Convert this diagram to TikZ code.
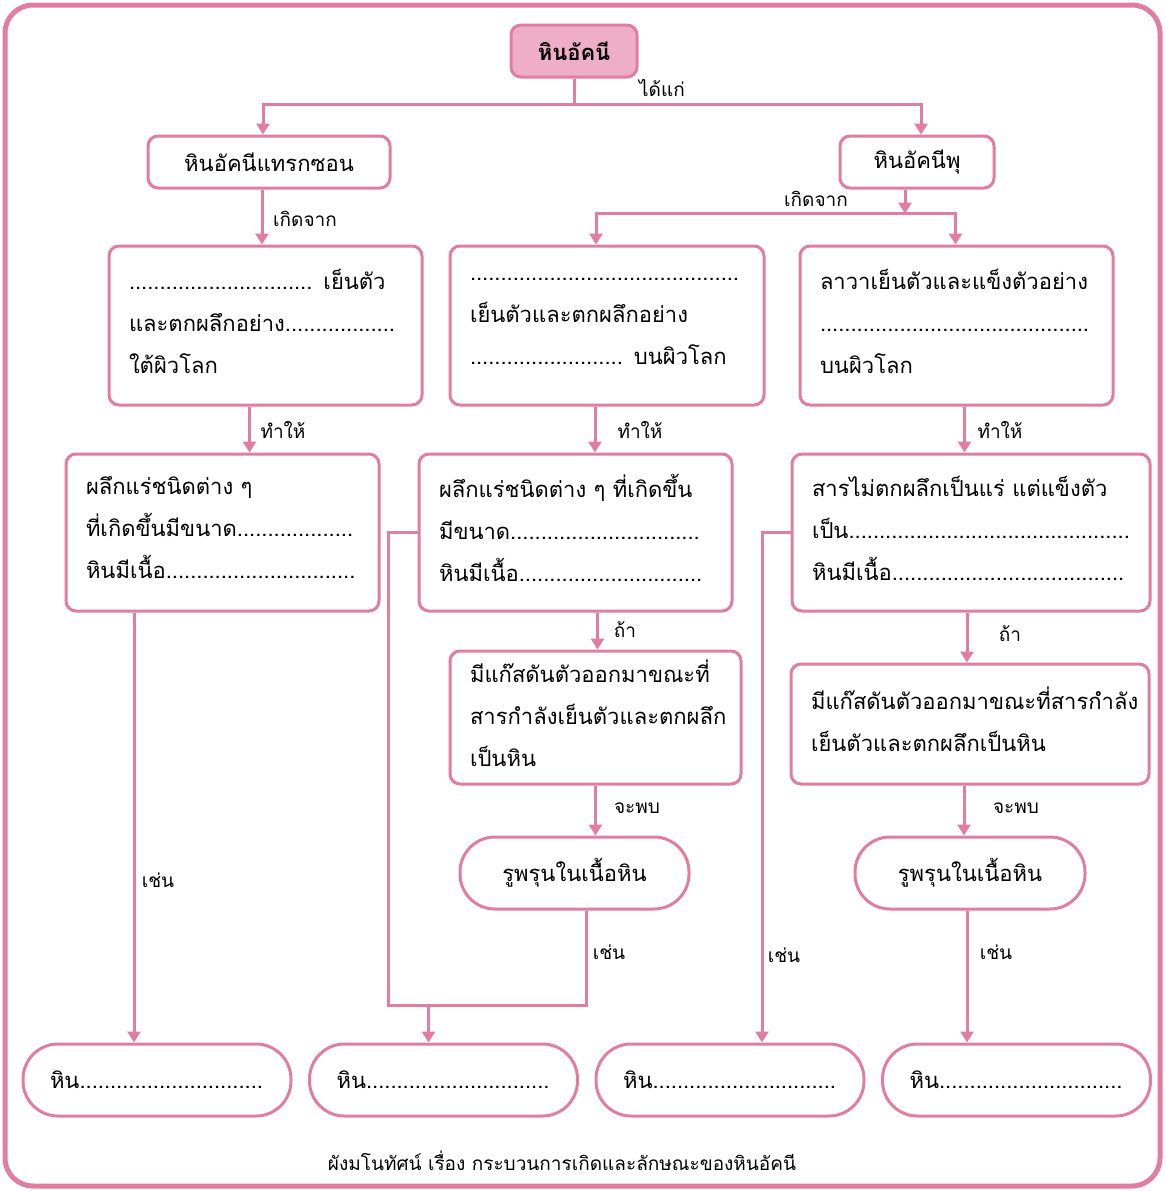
\documentclass[tikz,border=0pt]{standalone}
\usepackage{fontspec}
\setmainfont[Script=Thai]{Loma}
\usetikzlibrary{arrows.meta,calc}

\definecolor{rockpink}{RGB}{224,125,160}
\definecolor{rockfill}{RGB}{239,174,199}

\tikzset{
    box/.style={draw=rockpink, line width=3pt, rounded corners=10pt, fill=white,
        align=left, inner xsep=20pt, inner ysep=0pt,
        font=\fontsize{22}{42}\selectfont},
    textbox/.style={box, execute at end node={\par\vspace*{9pt}}},
    pill/.style={draw=rockpink, line width=3pt, rounded corners=35pt, fill=white,
        minimum height=72pt, inner ysep=0pt, font=\fontsize{22}{26}\selectfont},
    link/.style={draw=rockpink, line width=3pt},
    lbl/.style={font=\fontsize{19}{22}\selectfont, inner sep=0pt}
}

\begin{document}
\begin{tikzpicture}[x=1pt, y=-1pt, >={Triangle[width=13pt,length=11pt]}]
    \useasboundingbox (0,0) rectangle (1165,1191);
    % Frame
    \draw[rockpink, line width=5pt, rounded corners=28pt] (5,5) rectangle (1160,1186);
    % Top
    \node[box, fill=rockfill, align=center, minimum width=126pt, minimum height=52pt,
          inner xsep=0pt, font=\fontsize{22}{26}\selectfont\bfseries] (igneous) at (574,51) {หินอัคนี};
    \node[box, align=center, minimum width=242pt, minimum height=52pt, inner xsep=0pt,
          font=\fontsize{22}{26}\selectfont] (intrusive) at (269,162) {หินอัคนีแทรกซอน};
    \node[box, align=center, minimum width=154pt, minimum height=52pt, inner xsep=0pt,
          font=\fontsize{22}{26}\selectfont] (extrusive) at (917,162) {หินอัคนีพุ};
    % Origin boxes
    \node[textbox, text width=273pt, minimum height=159pt] (slow) at (265.5,325.5)
        {.............................. เย็นตัว\\และตกผลึกอย่าง..................\\ใต้ผิวโลก};
    \node[textbox, text width=274pt, minimum height=159pt] (fast) at (607,325.5)
        {............................................\\เย็นตัวและตกผลึกอย่าง\\......................... บนผิวโลก};
    \node[textbox, text width=273pt, minimum height=159pt] (rapid) at (956.5,325.5)
        {ลาวาเย็นตัวและแข็งตัวอย่าง\\............................................\\บนผิวโลก};
    % Texture boxes
    \node[textbox, text width=273pt, minimum height=157pt] (coarse) at (222.5,532.5)
        {ผลึกแร่ชนิดต่าง ๆ\\ที่เกิดขึ้นมีขนาด...................\\หินมีเนื้อ...............................};
    \node[textbox, text width=273pt, minimum height=157pt] (fine) at (575.5,532.5)
        {ผลึกแร่ชนิดต่าง ๆ ที่เกิดขึ้น\\มีขนาด...............................\\หินมีเนื้อ..............................};
    \node[textbox, text width=318pt, minimum height=157pt] (glassy) at (971,532.5)
        {สารไม่ตกผลึกเป็นแร่ แต่แข็งตัว\\เป็น..............................................\\หินมีเนื้อ......................................};
    % Gas boxes
    \node[textbox, text width=251pt, minimum height=133pt] (gasfine) at (595.5,717.5)
        {มีแก๊สดันตัวออกมาขณะที่\\สารกำลังเย็นตัวและตกผลึก\\เป็นหิน};
    \node[textbox, text width=318pt, minimum height=120pt] (gasglass) at (970,724)
        {มีแก๊สดันตัวออกมาขณะที่สารกำลัง\\เย็นตัวและตกผลึกเป็นหิน};
    % Pores
    \node[pill, minimum width=229pt] (porefine) at (574.5,873) {รูพรุนในเนื้อหิน};
    \node[pill, minimum width=230pt] (poreglass) at (970,873) {รูพรุนในเนื้อหิน};
    % Rock examples
    \foreach \i/\x in {1/157, 2/443.5, 3/730, 4/1016.5}
        \node[pill, text width=214pt, inner xsep=27pt, align=left] (rock\i) at (\x,1080) {หิน..............................};
    % Connectors
    \draw[link] (igneous.south) -- ++(0,26) coordinate (split);
    \draw[link,->] (split) -| ([xshift=-6pt]intrusive.north);
    \draw[link,->] (split) -| ([xshift=4pt]extrusive.north);
    \draw[link,->] ([xshift=-7pt]intrusive.south) -- ([xshift=-7pt]intrusive.south |- slow.north);
    \draw[link,->] ([xshift=-12pt]extrusive.south) -- ++(0,24) coordinate (fork);
    \draw[link,->] (fork) -| ([xshift=-11pt]fast.north);
    \draw[link,->] (fork) -| ([xshift=-1pt]rapid.north);
    \draw[link,->] ([xshift=-16pt]slow.south) -- ([xshift=-16pt]slow.south |- coarse.north);
    \draw[link,->] ([xshift=-12pt]fast.south) -- ([xshift=-12pt]fast.south |- fine.north);
    \draw[link,->] ([xshift=8pt]rapid.south) -- ([xshift=8pt]rapid.south |- glassy.north);
    \draw[link,->] ([xshift=2pt]gasfine.north |- fine.south) -- ([xshift=2pt]gasfine.north);
    \draw[link,->] ([xshift=-3pt]gasglass.north |- glassy.south) -- ([xshift=-3pt]gasglass.north);
    \draw[link,->] (gasfine.south) -- (gasfine.south |- porefine.north);
    \draw[link,->] ([xshift=-6pt]gasglass.south) -- ([xshift=-6pt]gasglass.south |- poreglass.north);
    \draw[link,->] ([xshift=-23pt]rock1.north |- coarse.south) -- ([xshift=-23pt]rock1.north);
    \coordinate (loopL) at (388,1005);
    \draw[link] ([xshift=12pt]porefine.south) |- (loopL) |- (fine.west);
    \draw[link,->] ([xshift=-15pt]rock2.north |- loopL) -- ([xshift=-15pt]rock2.north);
    \draw[link,->] (glassy.west) -| ([xshift=32pt]rock3.north);
    \draw[link,->] ([xshift=-3pt]poreglass.south) -- ([xshift=-3pt]poreglass.south |- rock4.north);
    % Labels
    \node[lbl] (l-kind)   at (662,88)  {ได้แก่};
    \node[lbl] (l-from1)  at (305,219) {เกิดจาก};
    \node[lbl] (l-from2)  at (816,199) {เกิดจาก};
    \node[lbl] (l-make1)  at (283,430) {ทำให้};
    \node[lbl] (l-make2)  at (640,430) {ทำให้};
    \node[lbl] (l-make3)  at (1000,430) {ทำให้};
    \node[lbl] (l-if1)    at (625,630) {ถ้า};
    \node[lbl] (l-if2)    at (1010,634) {ถ้า};
    \node[lbl] (l-find1)  at (637,808) {จะพบ};
    \node[lbl] (l-find2)  at (1016,808) {จะพบ};
    \node[lbl] (l-eg1)    at (158,880) {เช่น};
    \node[lbl] (l-eg2)    at (609,952) {เช่น};
    \node[lbl] (l-eg3)    at (784,955) {เช่น};
    \node[lbl] (l-eg4)    at (996,952) {เช่น};
    % Caption
    \node[lbl] (caption) at (562,1161) {ผังมโนทัศน์ เรื่อง กระบวนการเกิดและลักษณะของหินอัคนี};
\end{tikzpicture}
\end{document}
